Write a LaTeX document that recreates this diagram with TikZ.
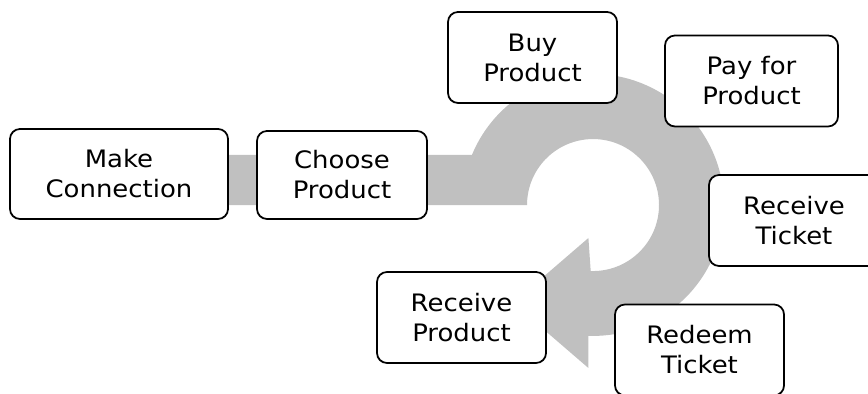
\documentclass[tikz,border=0pt]{standalone}
\usepackage{fontspec}
\setmainfont{DejaVu Sans}[FakeStretch=1.08]
\definecolor{ringgray}{RGB}{192,192,192}
\tikzset{
  stage/.style={draw=black, line width=1.5pt, rounded corners=0.3cm, fill=white,
    align=center, inner sep=0pt, minimum width=5.07cm, minimum height=2.73cm,
    font=\fontsize{20.5}{25.6}\selectfont},
}

\begin{document}
\begin{tikzpicture}[x=0.03cm, y=0.03cm]
\useasboundingbox (0,0) rectangle (868,394);
\fill[ringgray] (150,189) -- (150,239) -- (471.9,239)
  arc[start angle=157.6, end angle=-92, radius=131]
  -- (588.4,26) -- (513,91) -- (588.4,156) -- (590.7,123)
  arc[start angle=-92, end angle=180, radius=66] -- cycle;
\node[stage, minimum width=6.54cm, minimum height=2.7cm] (make) at (119,220) {Make\\Connection};
\node[stage, minimum width=5.1cm, minimum height=2.64cm] (choose) at (342,219) {Choose\\Product};
\node[stage] (buy) at (532.5,336.5) {Buy\\Product};
\node[stage, minimum width=5.19cm] (pay) at (751.5,313) {Pay for\\Product};
\node[stage, minimum width=5.1cm] (rticket) at (794,173.5) {Receive\\Ticket};
\node[stage] (redeem) at (699.5,44) {Redeem\\Ticket};
\node[stage] (rproduct) at (461.5,76.5) {Receive\\Product};
\end{tikzpicture}
\end{document}
